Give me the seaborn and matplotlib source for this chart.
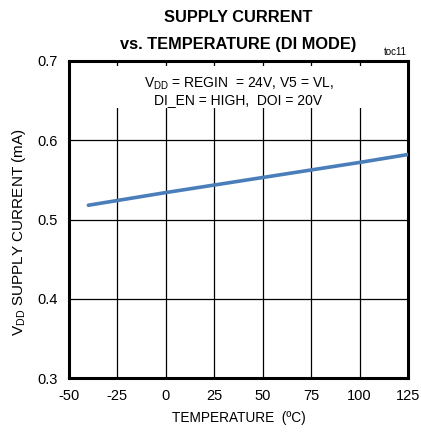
import matplotlib
matplotlib.use("Agg")
import matplotlib.pyplot as plt
from matplotlib.patches import Rectangle
import seaborn as sns
import pandas as pd

temperature_c = [-40, 0, 50, 100, 125]
supply_current_ma = [0.518, 0.534, 0.553, 0.572, 0.582]
x_ticks = [-50, -25, 0, 25, 50, 75, 100, 125]
y_ticks = [0.3, 0.4, 0.5, 0.6, 0.7]

sns.set_theme(style="white")
plt.rcParams["font.family"] = ["Liberation Sans Narrow", "Liberation Sans", "DejaVu Sans"]
plt.rcParams["text.color"] = "black"
plt.rcParams["axes.labelcolor"] = "black"
plt.rcParams["mathtext.fontset"] = "custom"
plt.rcParams["mathtext.rm"] = "Liberation Sans"
plt.rcParams["mathtext.it"] = "Liberation Sans"

df = pd.DataFrame({"temp": temperature_c, "current": supply_current_ma})

fig = plt.figure(figsize=(4.21, 4.34), dpi=100)
ax = fig.add_axes([69 / 421, 1 - 378 / 434, (408 - 69) / 421, (378 - 61) / 434])

sns.lineplot(data=df, x="temp", y="current", ax=ax, color="#4a7ebb", linewidth=2.6, zorder=4)

ax.set_xlim(-50, 125)
ax.set_ylim(0.3, 0.7)
ax.set_xticks(x_ticks)
ax.set_yticks(y_ticks)
ax.set_xticklabels([str(t) for t in x_ticks])
ax.set_yticklabels([f"{t:.1f}" for t in y_ticks])
ax.grid(True, color="black", linewidth=0.9)
ax.set_axisbelow(True)
for s in ax.spines.values():
    s.set_linewidth(2.2)
    s.set_color("black")
ax.tick_params(axis="both", length=0, labelsize=10.5, colors="black", pad=8)

ax.set_xlabel("TEMPERATURE  (ºC)", fontsize=9.8, labelpad=6)
ax.set_ylabel("V$_{\\mathrm{DD}}$ SUPPLY CURRENT (mA)", fontsize=11)
ax.yaxis.set_label_coords(-0.12, 0.46)

fig.text(238 / 421, 1 - 18 / 434, "SUPPLY CURRENT", ha="center", va="center",
         fontsize=11.8, fontweight="bold")
fig.text(238 / 421, 1 - 44 / 434, "vs. TEMPERATURE (DI MODE)", ha="center", va="center",
         fontsize=11.8, fontweight="bold")
fig.text(395 / 421, 1 - 52 / 434, "toc11", ha="center", va="center", fontsize=7)

# white panel behind the test conditions, hiding the grid lines
ax.add_patch(Rectangle((0.005, 0.852), 0.99, 0.133, transform=ax.transAxes,
                       facecolor="white", edgecolor="none", zorder=2))
ax.text(0.5, 0.905,
        "V$_{\\mathrm{DD}}$ = REGIN  = 24V, V5 = VL,\nDI_EN = HIGH,  DOI = 20V",
        transform=ax.transAxes, ha="center", va="center", fontsize=10,
        linespacing=1.1, zorder=3)

fig.savefig("out.png", dpi=100)
